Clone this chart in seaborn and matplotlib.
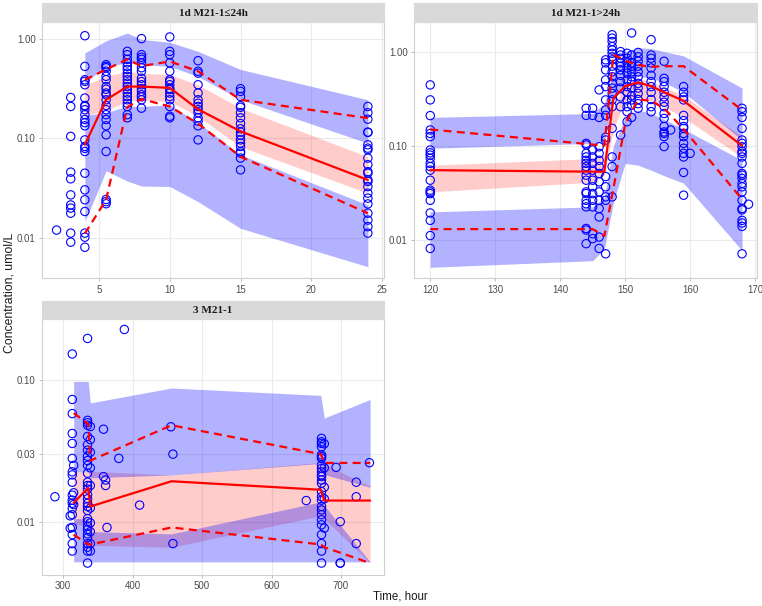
import numpy as np
import pandas as pd
import seaborn as sns
import matplotlib.pyplot as plt
from matplotlib.ticker import FixedLocator, FixedFormatter, NullLocator

W, H = 762, 606

# ---- panel 1: 1d M21-1<=24h ----
p1_title = "1d M21-1≤24h"
p1_obs_time = [2, 3, 4, 5.5, 7, 8, 10, 12, 15, 24]
p1_obs_conc = [
    [0.0119],
    [0.256, 0.208, 0.104, 0.0455, 0.039, 0.0269, 0.0213, 0.0198, 0.0176, 0.0111, 0.009],
    [1.07, 0.526, 0.386, 0.372, 0.344, 0.253, 0.213, 0.208, 0.193, 0.172, 0.154, 0.143,
     0.133, 0.096, 0.0825, 0.079, 0.0734, 0.0444, 0.0302, 0.024, 0.0183, 0.0111, 0.0101, 0.008],
    [0.547, 0.526, 0.51, 0.47, 0.418, 0.386, 0.33, 0.31, 0.284, 0.273, 0.243, 0.213, 0.193,
     0.172, 0.154, 0.133, 0.108, 0.0734, 0.0242, 0.023, 0.0219],
    [0.745, 0.69, 0.62, 0.57, 0.526, 0.49, 0.45, 0.418, 0.386, 0.357, 0.33, 0.307, 0.284,
     0.262, 0.243, 0.224, 0.208, 0.172, 0.16],
    [1.0, 0.69, 0.65, 0.62, 0.57, 0.51, 0.47, 0.40, 0.37, 0.344, 0.315, 0.295, 0.273, 0.26,
     0.243, 0.2],
    [1.04, 0.745, 0.69, 0.57, 0.47, 0.386, 0.372, 0.344, 0.315, 0.307, 0.284, 0.262, 0.243,
     0.208, 0.166, 0.16],
    [0.6, 0.47, 0.45, 0.344, 0.284, 0.243, 0.224, 0.208, 0.193, 0.18, 0.16, 0.148, 0.133, 0.096],
    [0.314, 0.295, 0.262, 0.212, 0.204, 0.18, 0.16, 0.14, 0.124, 0.115, 0.107, 0.096, 0.089,
     0.0825, 0.0734, 0.0706, 0.063, 0.048],
    [0.208, 0.18, 0.155, 0.115, 0.114, 0.0857, 0.0793, 0.0763, 0.063, 0.054, 0.046, 0.0444,
     0.038, 0.0366, 0.0326, 0.028, 0.0249, 0.0218, 0.0176, 0.015, 0.0129, 0.0111],
]
p1_bin_time = [4, 5.5, 7, 8, 10, 12, 15, 24]
p1_obs_p50 = [0.086, 0.243, 0.33, 0.33, 0.32, 0.195, 0.117, 0.038]
p1_obs_p95 = [0.386, 0.49, 0.62, 0.53, 0.59, 0.47, 0.243, 0.159]
p1_obs_p05 = [0.011, 0.024, 0.205, 0.247, 0.208, 0.14, 0.065, 0.0176]
p1_ci95_hi = [0.72, 0.95, 1.14, 0.98, 0.92, 0.745, 0.49, 0.243]
p1_ci95_lo = [0.36, 0.53, 0.57, 0.55, 0.526, 0.417, 0.243, 0.089]
p1_ci50_hi = [0.34, 0.417, 0.47, 0.45, 0.435, 0.344, 0.2, 0.065]
p1_ci50_lo = [0.17, 0.19, 0.234, 0.243, 0.234, 0.165, 0.082, 0.028]
p1_ci05_hi = [0.17, 0.18, 0.21, 0.208, 0.216, 0.143, 0.068, 0.0213]
p1_ci05_lo = [0.0145, 0.047, 0.037, 0.033, 0.0326, 0.023, 0.0124, 0.0051]

# ---- panel 2: 1d M21-1>24h ----
p2_title = "1d M21-1>24h"
p2_obs_time = [120, 144, 145, 146, 147, 148, 149.3, 150.3, 151, 152, 154, 156, 157, 159, 160, 168, 169]
p2_obs_conc = [
    [0.443, 0.307, 0.209, 0.147, 0.135, 0.125, 0.09, 0.084, 0.0795, 0.0735, 0.065, 0.06, 0.055,
     0.043, 0.0337, 0.0323, 0.031, 0.0263, 0.0193, 0.0161, 0.0111, 0.0081],
    [0.25, 0.21, 0.106, 0.102, 0.083, 0.076, 0.07, 0.065, 0.06, 0.055, 0.0487, 0.043, 0.0323,
     0.031, 0.0263, 0.0242, 0.0224, 0.0132, 0.0127, 0.0091],
    [0.25, 0.21, 0.09, 0.076, 0.065, 0.055, 0.043, 0.0366, 0.031, 0.0263, 0.0224, 0.0116, 0.0103],
    [0.392, 0.2, 0.0975, 0.083, 0.07, 0.06, 0.0507, 0.0414, 0.0323, 0.0263, 0.0215, 0.0175,
     0.0107, 0.0081],
    [0.818, 0.76, 0.64, 0.5, 0.425, 0.307, 0.24, 0.21, 0.123, 0.115, 0.047, 0.0366, 0.0286,
     0.0263, 0.0071],
    [1.51, 1.39, 1.28, 1.13, 1.04, 0.96, 0.88, 0.818, 0.7, 0.61, 0.54, 0.46, 0.41, 0.36, 0.307,
     0.26, 0.153, 0.076, 0.06, 0.0286],
    [1.0, 0.92, 0.85, 0.76, 0.7, 0.64, 0.56, 0.48, 0.41, 0.33, 0.26, 0.13],
    [0.96, 0.85, 0.76, 0.67, 0.59, 0.5, 0.425, 0.37, 0.307, 0.26, 0.23, 0.18],
    [1.58, 0.92, 0.76, 0.7, 0.61, 0.54, 0.48, 0.41, 0.34, 0.307, 0.27, 0.2],
    [0.98, 0.88, 0.79, 0.7, 0.61, 0.54, 0.46, 0.41, 0.36, 0.31, 0.28, 0.25],
    [1.34, 0.92, 0.85, 0.76, 0.67, 0.56, 0.48, 0.425, 0.37, 0.31, 0.26, 0.23],
    [0.79, 0.52, 0.48, 0.425, 0.37, 0.33, 0.29, 0.26, 0.22, 0.195, 0.16, 0.14, 0.135, 0.125, 0.098],
    [0.147],
    [0.425, 0.37, 0.33, 0.307, 0.21, 0.185, 0.16, 0.153, 0.135, 0.125, 0.106, 0.094, 0.083,
     0.076, 0.052, 0.0298],
    [0.083],
    [0.25, 0.23, 0.2, 0.153, 0.115, 0.106, 0.0975, 0.087, 0.083, 0.076, 0.065, 0.0507, 0.0487,
     0.045, 0.0397, 0.0366, 0.0323, 0.0263, 0.0215, 0.0208, 0.0161, 0.0151, 0.0139, 0.0071],
    [0.0239],
]
p2_bin_time = [120, 145, 146.8, 148.2, 150, 152, 154, 156, 159, 168]
p2_obs_p50 = [0.055, 0.053, 0.053, 0.32, 0.43, 0.47, 0.43, 0.37, 0.30, 0.10]
p2_obs_p95 = [0.149, 0.103, 0.1, 0.93, 0.8, 0.72, 0.69, 0.7, 0.7, 0.24]
p2_obs_p05 = [0.013, 0.013, 0.011, 0.035, 0.17, 0.31, 0.3, 0.25, 0.15, 0.027]
p2_ci95_hi = [0.2, 0.22, 0.28, 0.6, 1.0, 1.1, 1.08, 1.0, 0.9, 0.41]
p2_ci95_lo = [0.094, 0.106, 0.11, 0.3, 0.5, 0.55, 0.52, 0.47, 0.37, 0.115]
p2_ci50_hi = [0.062, 0.073, 0.08, 0.25, 0.45, 0.52, 0.48, 0.42, 0.34, 0.125]
p2_ci50_lo = [0.0323, 0.041, 0.048, 0.15, 0.3, 0.33, 0.3, 0.26, 0.2, 0.075]
p2_ci05_hi = [0.0198, 0.0224, 0.028, 0.1, 0.2, 0.24, 0.22, 0.19, 0.15, 0.07]
p2_ci05_lo = [0.0051, 0.006, 0.008, 0.025, 0.065, 0.062, 0.055, 0.048, 0.04, 0.0077]

# ---- panel 3: 3 M21-1 ----
p3_title = "3 M21-1"
p3_obs_time = [288, 310, 313, 315, 335, 339, 358, 361, 363, 380, 388, 410, 455, 458, 650, 672,
               676, 693, 699, 722, 741]
p3_obs_conc = [
    [0.015],
    [0.011, 0.009],
    [0.153, 0.073, 0.058, 0.042, 0.0357, 0.028, 0.0225, 0.0214, 0.019, 0.0154, 0.0142, 0.0135,
     0.0124, 0.0112, 0.0091, 0.0081, 0.007, 0.0062],
    [0.025, 0.016, 0.0132],
    [0.197, 0.052, 0.050, 0.048, 0.040, 0.035, 0.032, 0.029, 0.027, 0.025, 0.022, 0.019, 0.018,
     0.017, 0.0155, 0.0145, 0.0135, 0.0128, 0.012, 0.0105, 0.01, 0.0093, 0.0088, 0.0082, 0.0077,
     0.007, 0.0066, 0.0062, 0.0051],
    [0.047, 0.038, 0.031, 0.024, 0.018, 0.0125, 0.0098, 0.0085, 0.007, 0.0062],
    [0.045, 0.0208],
    [0.0197, 0.018],
    [0.0091],
    [0.028],
    [0.228],
    [0.0131],
    [0.0468],
    [0.03, 0.007],
    [0.0141],
    [0.0388, 0.0367, 0.0357, 0.0338, 0.0296, 0.0288, 0.028, 0.0251, 0.0238, 0.0225, 0.0214,
     0.0208, 0.0197, 0.0187, 0.0163, 0.015, 0.0142, 0.0128, 0.0121, 0.0112, 0.0103, 0.0095,
     0.0081, 0.007, 0.0062, 0.0051],
    [0.0355, 0.024, 0.0175, 0.0145, 0.009],
    [0.0242],
    [0.01, 0.0051, 0.0051],
    [0.019, 0.015, 0.007],
    [0.0261],
]
p3_bin_time = [315, 336, 339, 456, 671, 676, 742]
p3_obs_p50 = [0.0136, 0.0173, 0.0128, 0.0193, 0.0168, 0.0141, 0.0141]
p3_obs_p95 = [0.0585, 0.049, 0.027, 0.048, 0.030, 0.026, 0.026]
p3_obs_p05 = [0.0081, 0.0069, 0.0069, 0.0091, 0.0069, 0.0066, 0.0051]
p3_ci95_hi = [0.098, 0.098, 0.069, 0.088, 0.078, 0.054, 0.073]
p3_ci95_lo = [0.0225, 0.0225, 0.0204, 0.0214, 0.0258, 0.0215, 0.0175]
p3_ci50_hi = [0.0225, 0.0225, 0.0227, 0.0214, 0.0262, 0.0255, 0.0178]
p3_ci50_lo = [0.0095, 0.0095, 0.0068, 0.0066, 0.011, 0.0105, 0.0051]
p3_ci05_hi = [0.0105, 0.0105, 0.0085, 0.0082, 0.0138, 0.013, 0.0052]
p3_ci05_lo = [0.0052, 0.0052, 0.0052, 0.0052, 0.0052, 0.0052, 0.0052]


def box(x0, y0, x1, y1):
    # pixel box (top-left origin) -> figure fraction rect
    return [x0 / W, 1 - y1 / H, (x1 - x0) / W, (y1 - y0) / H]


def strip(fig, rect, title):
    sax = fig.add_axes(rect)
    sax.set_facecolor('#D9D9D9')
    sax.set_xticks([])
    sax.set_yticks([])
    sax.grid(False)
    for s in sax.spines.values():
        s.set_color('#D9D9D9')
    sax.text(0.5, 0.45, title, ha='center', va='center', fontsize=8, fontweight='bold',
             family=['Liberation Serif', 'DejaVu Serif'], color='#1A1A1A')


def panel(ax, obs_time, obs_conc, bins, p05, p50, p95, ci05, ci50, ci95,
          xlim, ylim, xticks, yticks, ylabels):
    ax.set_yscale('log')
    ax.fill_between(bins, ci50[0], ci50[1], color='#FF0000', alpha=0.2, lw=0, zorder=1)
    ax.fill_between(bins, ci95[0], ci95[1], color='#0000FF', alpha=0.3, lw=0, zorder=1)
    ax.fill_between(bins, ci05[0], ci05[1], color='#0000FF', alpha=0.3, lw=0, zorder=1)

    df_obs = pd.DataFrame({
        'time': np.repeat(obs_time, [len(c) for c in obs_conc]),
        'conc': np.concatenate(obs_conc),
    })
    sns.scatterplot(data=df_obs, x='time', y='conc', ax=ax, marker='o', s=36,
                    facecolors='none', edgecolor='#0000FF', linewidth=0.8, zorder=3)

    df_lines = pd.DataFrame({'time': list(bins) * 3,
                             'conc': list(p50) + list(p05) + list(p95),
                             'stat': ['p50'] * len(bins) + ['p05'] * len(bins) + ['p95'] * len(bins)})
    sns.lineplot(data=df_lines[df_lines.stat == 'p50'], x='time', y='conc', ax=ax,
                 color='#FF0000', lw=1.6, estimator=None, sort=False, zorder=4)
    for st in ['p05', 'p95']:
        sns.lineplot(data=df_lines[df_lines.stat == st], x='time', y='conc', ax=ax,
                     color='#FF0000', lw=1.6, estimator=None, sort=False, zorder=4,
                     linestyle=(0, (3.6, 2.4)))

    ax.set_xlim(*xlim)
    ax.set_ylim(*ylim)
    ax.xaxis.set_major_locator(FixedLocator(xticks))
    ax.yaxis.set_major_locator(FixedLocator(yticks))
    ax.yaxis.set_major_formatter(FixedFormatter(ylabels))
    ax.yaxis.set_minor_locator(NullLocator())
    ax.set_xlabel('')
    ax.set_ylabel('')
    ax.tick_params(axis='both', labelsize=7, labelcolor='#4D4D4D', color='#B0B0B0',
                   length=2.5, width=0.6, pad=2, left=True, bottom=True)
    ax.grid(True, color='#EBEBEB', lw=0.8)
    ax.set_axisbelow(True)
    for s in ax.spines.values():
        s.set_color('#D0D0D0')
        s.set_linewidth(0.8)


sns.set_style("whitegrid")
plt.rcParams['font.family'] = ['Liberation Sans', 'DejaVu Sans']

fig = plt.figure(figsize=(W / 100, H / 100), dpi=100)

ax1 = fig.add_axes(box(42, 21.7, 384, 278.3))
strip(fig, box(42, 3.3, 384, 21.7), p1_title)
panel(ax1, p1_obs_time, p1_obs_conc, p1_bin_time, p1_obs_p05, p1_obs_p50, p1_obs_p95,
      (p1_ci05_lo, p1_ci05_hi), (p1_ci50_lo, p1_ci50_hi), (p1_ci95_lo, p1_ci95_hi),
      (0.97, 25.14), (0.0039, 1.48), [5, 10, 15, 20, 25], [0.01, 0.1, 1.0],
      ['0.01', '0.10', '1.00'])

ax2 = fig.add_axes(box(414, 21.7, 757, 278.3))
strip(fig, box(414, 3.3, 757, 21.7), p2_title)
panel(ax2, p2_obs_time, p2_obs_conc, p2_bin_time, p2_obs_p05, p2_obs_p50, p2_obs_p95,
      (p2_ci05_lo, p2_ci05_hi), (p2_ci50_lo, p2_ci50_hi), (p2_ci95_lo, p2_ci95_hi),
      (117.5, 170.3), (0.0039, 2.08), [120, 130, 140, 150, 160, 170], [0.01, 0.1, 1.0],
      ['0.01', '0.10', '1.00'])

ax3 = fig.add_axes(box(42, 319.3, 384, 575))
strip(fig, box(42, 300.8, 384, 319.3), p3_title)
panel(ax3, p3_obs_time, p3_obs_conc, p3_bin_time, p3_obs_p05, p3_obs_p50, p3_obs_p95,
      (p3_ci05_lo, p3_ci05_hi), (p3_ci50_lo, p3_ci50_hi), (p3_ci95_lo, p3_ci95_hi),
      (269.4, 762), (0.0042, 0.269), [300, 400, 500, 600, 700], [0.01, 0.03, 0.1],
      ['0.01', '0.03', '0.10'])

fig.text(0.012, 0.517, 'Concentration, umol/L', rotation=90, ha='center', va='center',
         fontsize=8.8, color='#1A1A1A')
fig.text(0.525, 0.015, 'Time, hour', ha='center', va='center', fontsize=8.3, color='#1A1A1A')

fig.savefig('out.png', dpi=100)
